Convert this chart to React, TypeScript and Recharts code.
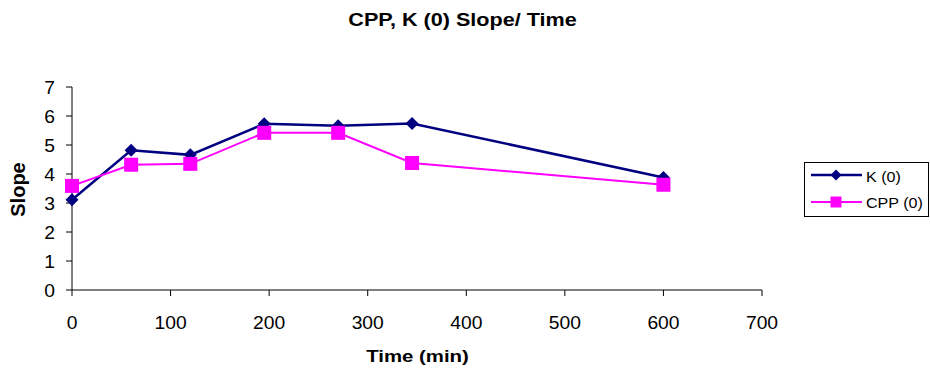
import { LineChart, Line, XAxis, YAxis, Legend } from 'recharts';

// time points (min)
const times = [0, 60, 120, 195, 270, 345, 600];
const kValues = [3.11, 4.82, 4.66, 5.73, 5.66, 5.74, 3.88];
const cppValues = [3.59, 4.32, 4.35, 5.42, 5.42, 4.38, 3.63];

const xTicks = [0, 100, 200, 300, 400, 500, 600, 700];
const yTicks = [0, 1, 2, 3, 4, 5, 6, 7];

const NAVY = '#000080';
const MAGENTA = '#FF00FF';
const FONT = '"Liberation Sans", Arial, sans-serif';
// the reference text looks a bit wider than normal Arial
const STRETCH = 1.2;
const TICK_STRETCH = 1.07;

const data = times.map((t, i) => ({ time: t, k: kValues[i], cpp: cppValues[i] }));

const Diamond = (props: any) => {
  const { cx, cy, r = 6.5, fill = NAVY } = props;
  if (cx == null || cy == null) return null;
  return (
    <path
      d={`M${cx},${cy - r} L${cx + r},${cy} L${cx},${cy + r} L${cx - r},${cy} Z`}
      fill={fill}
    />
  );
};

const Square = (props: any) => {
  const { cx, cy, r = 7, fill = MAGENTA } = props;
  if (cx == null || cy == null) return null;
  return <rect x={cx - r} y={cy - r} width={r * 2} height={r * 2} fill={fill} />;
};

const XTick = ({ x, y, payload }: any) => (
  <g transform={`translate(${x},${y + 33}) scale(${TICK_STRETCH},1)`}>
    <text textAnchor="middle" fontSize={18} fill="#000" fontFamily={FONT}>
      {payload.value}
    </text>
  </g>
);

const YTick = ({ x, y, payload }: any) => (
  <g transform={`translate(${x - 11},${y + 7.2}) scale(${TICK_STRETCH},1)`}>
    <text textAnchor="end" fontSize={18} fill="#000" fontFamily={FONT}>
      {payload.value}
    </text>
  </g>
);

const LegendBox = () => (
  <svg width={125} height={55} style={{ display: 'block' }}>
    <rect x={0.5} y={0.5} width={124} height={54} fill="#fff" stroke="#000" strokeWidth={1} />
    <line x1={7} y1={13} x2={58} y2={13} stroke={NAVY} strokeWidth={2.5} />
    <Diamond cx={32} cy={13} r={5.5} />
    <g transform={`translate(62,19.7) scale(1.15,1)`}>
      <text fontSize={14} fontFamily={FONT} fill="#000">K (0)</text>
    </g>
    <line x1={7} y1={40} x2={58} y2={40} stroke={MAGENTA} strokeWidth={2} />
    <Square cx={32} cy={40} r={5.5} />
    <g transform={`translate(62,46.3) scale(1.15,1)`}>
      <text fontSize={14} fontFamily={FONT} fill="#000">CPP (0)</text>
    </g>
  </svg>
);

export default function App() {
  return (
    <div style={{ position: 'absolute', left: 0, top: 0, width: 930, height: 369, background: '#fff', fontFamily: FONT }}>
      <LineChart width={930} height={369} data={data} margin={{ top: 87, right: 168, bottom: 29, left: 0 }}>
        <XAxis
          dataKey="time"
          type="number"
          domain={[0, 700]}
          ticks={xTicks}
          interval={0}
          height={50}
          tickSize={6}
          tickMargin={0}
          stroke="#000"
          tick={<XTick />}
        />
        <YAxis
          type="number"
          domain={[0, 7]}
          ticks={yTicks}
          interval={0}
          width={72}
          tickSize={6}
          tickMargin={0}
          stroke="#000"
          tick={<YTick />}
        />
        <Legend
          layout="horizontal"
          verticalAlign="middle"
          align="center"
          content={<LegendBox />}
          wrapperStyle={{ position: 'absolute', left: 804, top: 162, width: 125, height: 55 }}
        />
        <Line
          name="K (0)"
          dataKey="k"
          type="linear"
          stroke={NAVY}
          strokeWidth={2.5}
          dot={(p: any) => <Diamond key={`k-${p.index}`} cx={p.cx} cy={p.cy} />}
          activeDot={false}
          isAnimationActive={false}
        />
        <Line
          name="CPP (0)"
          dataKey="cpp"
          type="linear"
          stroke={MAGENTA}
          strokeWidth={2}
          dot={(p: any) => <Square key={`c-${p.index}`} cx={p.cx} cy={p.cy} />}
          activeDot={false}
          isAnimationActive={false}
        />
      </LineChart>
      <svg width={930} height={369} style={{ position: 'absolute', left: 0, top: 0, pointerEvents: 'none' }}>
        <g transform={`translate(462.5,26) scale(${STRETCH},1)`}>
          <text textAnchor="middle" fontSize={18} fontWeight="bold" fontFamily={FONT} fill="#000">
            CPP, K (0) Slope/ Time
          </text>
        </g>
        <g transform={`translate(417.5,362) scale(${STRETCH},1)`}>
          <text textAnchor="middle" fontSize={17} fontWeight="bold" fontFamily={FONT} fill="#000">
            Time (min)
          </text>
        </g>
        <g transform="translate(25,189.5) rotate(-90)">
          <text textAnchor="middle" fontSize={20} fontWeight="bold" fontFamily={FONT} fill="#000">
            Slope
          </text>
        </g>
      </svg>
    </div>
  );
}
